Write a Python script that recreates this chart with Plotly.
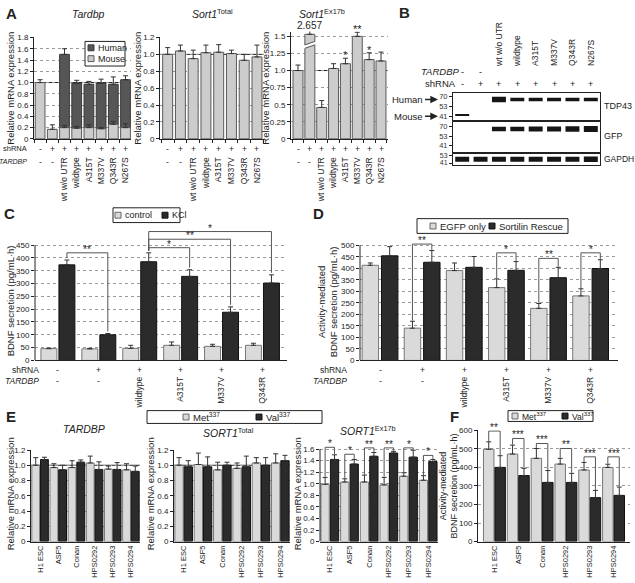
import plotly.graph_objects as go

W, H = 635, 583
FONT = "Liberation Sans, Arial, sans-serif"
BOLD = "Liberation Sans, Arial, sans-serif"
INK = "#222222"
LIGHT = "#dadada"
ALIGHT = "#cccccc"
HUMAN = "#565656"
DARK = "#2b2b2b"
MID = "#555555"
EDGE = "#5a5a5a"
GRID = "#9a9a9a"
TS = 8       # tick label size
RS = 8.5     # rotated label size
SS = 8.5     # +/- sign size
YT = 9.5     # axis title size

# ===================== DATA =====================
a_shrna = ["-", "+", "+", "+", "+", "+", "+", "+"]
a_tardbp = ["-", "-", "wt w/o UTR", "wildtype", "A315T", "M337V", "Q343R", "N267S"]

a1_mouse = [1.00, 0.17, 0.20, 0.19, 0.20, 0.18, 0.26, 0.20]
a1_mouse_err = [0.05, 0.08, 0.04, 0.03, 0.05, 0.02, 0.05, 0.07]
a1_total = [None, None, 1.50, 0.99, 0.97, 0.99, 0.97, 1.05]
a1_total_err = [0, 0, 0.10, 0.05, 0.05, 0.07, 0.13, 0.07]
a1_ticks = [0, 0.2, 0.4, 0.6, 0.8, 1.0, 1.2, 1.4, 1.6, 1.8]
a1_ticktext = ["0", "0.2", "0.4", "0.6", "0.8", "1.0", "1.2", "1.4", "1.6", "1.8"]

a2_vals = [1.00, 1.04, 0.95, 1.02, 1.025, 1.01, 0.93, 0.97]
a2_err = [0.08, 0.07, 0.10, 0.09, 0.09, 0.04, 0.07, 0.14]
a2_ticks = [0, 0.2, 0.4, 0.6, 0.8, 1.0, 1.2]
a2_ticktext = ["0", "0.2", "0.4", "0.6", "0.8", "1.0", "1.2"]

a3_vals = [1.00, 2.657, 0.46, 1.03, 1.10, 1.50, 1.16, 1.14]
a3_err = [0.08, 0.06, 0.10, 0.07, 0.08, 0.06, 0.10, 0.13]
a3_stars = ["", "", "", "", "*", "**", "*", ""]
a3_axis_cap = 1.53      # broken-axis display height of the 2.657 bar
a3_break_at = 1.35
a3_ticks = [0, 0.25, 0.5, 0.75, 1.0, 1.25, 1.5]
a3_ticktext = ["0", "0.25", "0.5", "0.75", "1.0", "1.25", "1.5"]

b_lanes = [1, 2, 3, 4, 5, 6, 7, 8]
b_tardbp = ["-", "-", "wt w/o UTR", "wildtype", "A315T", "M337V", "Q343R", "N267S"]
b_shrna = ["-", "+", "+", "+", "+", "+", "+", "+"]
b_mw = [70, 53, 41]
b_human_lanes = [3, 4, 5, 6, 7, 8]
b_human_kda = 64.5
b_human_thick = [5.5, 3.5, 3.5, 3.5, 3.5, 3.5]
b_mouse_lanes = [1]
b_mouse_kda = 42.5
b_mouse_thick = [2.0]
b_gfp_lanes = [3, 4, 5, 6, 7, 8]
b_gfp_kda = 64.5
b_gfp_thick = [4.5, 4.5, 5.0, 5.0, 5.5, 6.0]
b_gapdh_lanes = [1, 2, 3, 4, 5, 6, 7, 8]
b_gapdh_kda = 46.5
b_gapdh_thick = [5.0, 5.0, 5.0, 5.0, 5.0, 5.0, 5.0, 5.5]

c_shrna = ["-", "+", "+", "+", "+", "+"]
c_tardbp = ["-", "-", "wildtype", "A315T", "M337V", "Q343R"]
c_control = [46, 45, 47, 59, 55, 59]
c_control_err = [2, 2, 12, 13, 8, 8]
c_kcl = [373, 100, 385, 328, 188, 302]
c_kcl_err = [19, 5, 35, 26, 21, 32]
c_brackets = [(0, 1, 420, "**"), (2, 3, 440, "*"), (2, 4, 473, "**"), (2, 5, 503, "*")]
c_ticks = [0, 50, 100, 150, 200, 250, 300, 350, 400, 450]

d_shrna = ["-", "+", "+", "+", "+", "+"]
d_tardbp = ["-", "-", "wildtype", "A315T", "M337V", "Q343R"]
d_egfp = [413, 140, 390, 316, 226, 280]
d_egfp_err = [10, 30, 33, 38, 21, 31]
d_rescue = [454, 426, 404, 391, 359, 399]
d_rescue_err = [40, 51, 47, 38, 45, 38]
d_brackets = [(1, 505, "**"), (3, 467, "*"), (4, 443, "**"), (5, 467, "*")]
d_ticks = [0, 50, 100, 150, 200, 250, 300, 350, 400, 450, 500]

e_lines = ["H1 ESC", "ASF5", "Conan", "HPS0292", "HPS0293", "HPS0294"]
e1_met = [1.00, 0.97, 0.97, 1.03, 0.95, 0.94]
e1_met_err = [0.10, 0.05, 0.09, 0.09, 0.04, 0.08]
e1_val = [1.075, 0.94, 1.04, 0.945, 0.945, 0.92]
e1_val_err = [0.03, 0.06, 0.03, 0.10, 0.09, 0.07]
e2_met = [1.00, 1.01, 0.94, 0.96, 1.03, 1.03]
e2_met_err = [0.10, 0.15, 0.10, 0.07, 0.07, 0.12]
e2_val = [0.98, 0.98, 1.00, 0.98, 1.00, 1.06]
e2_val_err = [0.08, 0.13, 0.04, 0.14, 0.10, 0.07]
e3_met = [0.99, 1.03, 1.03, 0.98, 1.13, 1.06]
e3_met_err = [0.12, 0.055, 0.12, 0.13, 0.06, 0.08]
e3_val = [1.42, 1.34, 1.475, 1.53, 1.46, 1.385]
e3_val_err = [0.08, 0.08, 0.065, 0.03, 0.12, 0.035]
e3_bracket_top = [1.63, 1.51, 1.62, 1.62, 1.62, 1.49]
e3_bracket_lab = ["*", "*", "**", "**", "*", "*"]
e12_ticks = [0, 0.2, 0.4, 0.6, 0.8, 1.0, 1.2]
e12_ticktext = ["0", "0.2", "0.4", "0.6", "0.8", "1.0", "1.2"]
e3_ticks = [0, 0.2, 0.4, 0.6, 0.8, 1.0, 1.2, 1.4, 1.6]
e3_ticktext = ["0", "0.2", "0.4", "0.6", "0.8", "1.0", "1.2", "1.4", "1.6"]

f_met = [498, 472, 449, 418, 386, 400]
f_met_err = [40, 48, 53, 31, 41, 17]
f_val = [400, 356, 319, 319, 237, 249]
f_val_err = [63, 39, 64, 49, 39, 45]
f_bracket_top = [596, 556, 529, 502, 457, 457]
f_bracket_lab = ["**", "***", "***", "**", "***", "***"]
f_ticks = [0, 100, 200, 300, 400, 500, 600]

# ===================== HELPERS =====================
def fx(px):
    return px / W


def fy(py):
    return 1 - py / H


fig = go.Figure()
shapes = []
annots = []
layout = {}


def ref(n):
    return ("x" if n == 1 else f"x{n}"), ("y" if n == 1 else f"y{n}")


def lkey(n):
    return ("xaxis" if n == 1 else f"xaxis{n}"), ("yaxis" if n == 1 else f"yaxis{n}")


def tf(size=11, color=INK, family=FONT):
    return dict(size=size, color=color, family=family)


def make_axes(n, xpx, ypx, xr, yr, yticks=None, ytext=None, grid=True, yline=True, xkw=None, ykw=None):
    xk, yk = lkey(n)
    xr_, yr_ = ref(n)
    xa = dict(domain=[fx(xpx[0]), fx(xpx[1])], range=xr, anchor=yr_, showgrid=False, zeroline=False,
              showline=True, linecolor=INK, linewidth=1, ticks="", tickfont=tf(RS), fixedrange=True)
    ya = dict(domain=[fy(ypx[1]), fy(ypx[0])], range=yr, anchor=xr_, zeroline=False, showline=yline,
              linecolor=INK, linewidth=1, ticks="outside", ticklen=3, tickwidth=1, tickcolor=INK,
              tickfont=tf(TS), showgrid=grid, gridcolor=GRID, griddash="dot", gridwidth=1,
              tickmode="array", tickvals=yticks, ticktext=ytext, fixedrange=True)
    if xkw:
        xa.update(xkw)
    if ykw:
        ya.update(ykw)
    layout[xk] = xa
    layout[yk] = ya


def bars(n, x, y, err, color, width, offset, base=None, name=None, edge=EDGE):
    xr_, yr_ = ref(n)
    fig.add_trace(go.Bar(
        x=x, y=y, base=base, width=width, offset=offset, xaxis=xr_, yaxis=yr_,
        marker=dict(color=color, line=dict(color=edge, width=1)),
        error_y=dict(type="data", array=err, arrayminus=[0] * len(err), symmetric=False,
                     color="#333333", thickness=1, width=2.5),
        name=name, showlegend=False, hoverinfo="skip"))


def text(x, y, s, xref="paper", yref="paper", size=10, xanchor="center", yanchor="middle",
         angle=0, family=FONT, yshift=0, color=INK):
    annots.append(dict(x=x, y=y, xref=xref, yref=yref, text=s, showarrow=False, textangle=angle,
                       xanchor=xanchor, yanchor=yanchor, yshift=yshift, font=tf(size, color, family)))


def row_signs(n, labels, py, size=SS):
    xr_, _ = ref(n)
    for i, s in enumerate(labels):
        if s in ("-", "+"):
            text(i, fy(py), s, xref=xr_, size=size)


def bracket(n, x0, x1, y0, y1, top, label, size=10):
    xr_, yr_ = ref(n)
    shapes.append(dict(type="path", path=f"M {x0},{y0} L {x0},{top} L {x1},{top} L {x1},{y1}",
                       xref=xr_, yref=yr_, line=dict(color=MID, width=1)))
    text((x0 + x1) / 2, top, label, xref=xr_, yref=yr_, size=size, yanchor="bottom", yshift=-4)


def refline(n, yv, xr):
    xr_, yr_ = ref(n)
    shapes.append(dict(type="line", xref=xr_, yref=yr_, x0=xr[0], x1=xr[1], y0=yv, y1=yv,
                       line=dict(color=INK, width=1), layer="below"))


def yline(n, top):
    xr_, yr_ = ref(n)
    shapes.append(dict(type="line", xref=f"{xr_} domain", yref=yr_, x0=0, x1=0, y0=0, y1=top,
                       line=dict(color=INK, width=1)))


def minor_sep(k):
    return dict(tickvals=[i + 0.5 for i in range(-1, k)], ticks="outside", ticklen=3, tickcolor=INK)


def rot_text(labels):
    return ["" if t in ("-", "+") else t for t in labels]


def key_box(box, entries, size=9):
    """legend box: box=(x0,x1,y0,y1) px; entries=(swatch_x, y, label, fill, edge)"""
    shapes.append(dict(type="rect", xref="paper", yref="paper", x0=fx(box[0]), x1=fx(box[1]),
                       y0=fy(box[3]), y1=fy(box[2]), fillcolor="white", line=dict(color=INK, width=1)))
    for sx, sy, lab, fill, edge in entries:
        shapes.append(dict(type="rect", xref="paper", yref="paper", x0=fx(sx), x1=fx(sx + 6),
                           y0=fy(sy + 3), y1=fy(sy - 3), fillcolor=fill, line=dict(color=edge, width=1)))
        text(fx(sx + 8), fy(sy), lab, xanchor="left", size=size)


# ===================== PANEL A =====================
idx8 = list(range(8))
a1_xr = [-0.5, 7.45]
make_axes(1, (34, 131), (34, 137), a1_xr, [0, 1.8], a1_ticks, a1_ticktext,
          xkw=dict(tickmode="array", tickvals=idx8, ticktext=rot_text(a_tardbp), tickangle=-90,
                   ticklabelstandoff=14, minor=minor_sep(8)))
a1_human = [None if t is None else round(t - m, 3) for t, m in zip(a1_total, a1_mouse)]
bars(1, idx8, a1_human, a1_total_err, HUMAN, 0.8, -0.4, base=a1_mouse, name="Human", edge="#3a3a3a")
bars(1, idx8, a1_mouse, a1_mouse_err, ALIGHT, 0.8, -0.4, name="Mouse")
refline(1, 1.0, a1_xr)
row_signs(1, a_shrna, 147)
row_signs(1, a_tardbp, 160)
text(fx(29), fy(147), "shRNA", xanchor="right", size=7.5)
text(fx(29), fy(160), "<i>TARDBP</i>", xanchor="right", size=7)
text(fx(88), fy(10), "<i>Tardbp</i>", size=10.5)
text(fx(11), fy(86), "Relative mRNA expression", angle=-90, size=YT)
key_box((85, 125, 38, 63), [(88, 44.5, "Human", HUMAN, "#3a3a3a"), (88, 55.5, "Mouse", ALIGHT, EDGE)])

a2_xr = [-0.6, 7.55]
make_axes(2, (160, 264), (34, 137), a2_xr, [0, 1.2], a2_ticks, a2_ticktext,
          xkw=dict(tickmode="array", tickvals=idx8, ticktext=rot_text(a_tardbp), tickangle=-90,
                   ticklabelstandoff=14, minor=minor_sep(8)))
bars(2, idx8, a2_vals, a2_err, ALIGHT, 0.78, -0.39)
refline(2, 1.0, a2_xr)
row_signs(2, a_shrna, 147)
row_signs(2, a_tardbp, 160)
text(fx(212), fy(10), "<i>Sort1</i><sup>Total</sup>", size=10.5)
text(fx(138), fy(86), "Relative mRNA expression", angle=-90, size=YT)

a3_xr = [-0.59, 7.59]
make_axes(3, (291, 388), (28, 137), a3_xr, [0, 1.57], a3_ticks, a3_ticktext,
          xkw=dict(tickmode="array", tickvals=idx8, ticktext=rot_text(a_tardbp), tickangle=-90,
                   ticklabelstandoff=14, minor=minor_sep(8)))
a3_shown = [min(v, a3_axis_cap) for v in a3_vals]
bars(3, idx8, a3_shown, a3_err, ALIGHT, 0.84, -0.42)
refline(3, 1.0, a3_xr)
row_signs(3, a_shrna, 147)
row_signs(3, a_tardbp, 160)
brk = a3_vals.index(max(a3_vals))
shapes.append(dict(type="path", xref="x3", yref="y3",
                   path=(f"M {brk - 0.5},{a3_break_at - 0.03} L {brk + 0.5},{a3_break_at + 0.03} "
                         f"L {brk + 0.5},{a3_break_at + 0.08} L {brk - 0.5},{a3_break_at + 0.02} Z"),
                   fillcolor="white", line=dict(width=0)))
for dy in (-0.03, 0.02):
    shapes.append(dict(type="line", xref="x3", yref="y3", x0=brk - 0.42, x1=brk + 0.42,
                       y0=a3_break_at + dy + 0.005, y1=a3_break_at + dy + 0.055,
                       line=dict(color=MID, width=1)))
text(brk, 1.57, f"{max(a3_vals):.3f}", xref="x3", yref="y3", size=10, yanchor="bottom", yshift=-1)
for i, s in enumerate(a3_stars):
    if s:
        text(i, a3_shown[i] + a3_err[i], s, xref="x3", yref="y3", size=11, yanchor="bottom", yshift=-5)
text(fx(322), fy(10), "<i>Sort1</i><sup>Ex17b</sup>", size=10.5)
text(fx(266), fy(86), "Relative mRNA expression", angle=-90, size=YT)

# ===================== PANEL B =====================
b_rng = [0.5, 8.5]
b_tick = dict(tickmode="array", tickvals=b_mw, ticktext=[str(v) for v in b_mw], ticks="outside",
              ticklen=3, tickfont=tf(7.5, "#333333"), showgrid=False, mirror=True, type="log")
make_axes(4, (453, 600), (90, 118), b_rng, [1.567, 1.891], grid=False,
          xkw=dict(side="top", mirror=True, tickmode="array", tickvals=b_lanes,
                   ticktext=rot_text(b_tardbp), tickangle=-90, ticklabelstandoff=24,
                   tickfont=tf(8.5)),
          ykw=b_tick)
make_axes(5, (453, 600), (120, 150), b_rng, [1.543, 1.891], grid=False,
          xkw=dict(mirror=True, showticklabels=False), ykw=b_tick)
make_axes(6, (453, 600), (152, 163.5), b_rng, [1.585, 1.745], grid=False,
          xkw=dict(mirror=True, showticklabels=False),
          ykw=dict(b_tick, tickvals=b_mw[1:], ticktext=[str(v) for v in b_mw[1:]], tickfont=tf(7, "#333333")))


def bands(n, lanes, kda, thick):
    xr_, yr_ = ref(n)
    for lane, t in zip(lanes, thick):
        fig.add_trace(go.Scatter(x=[lane - 0.38, lane + 0.38], y=[kda, kda], mode="lines",
                                 line=dict(color="#161616", width=t), xaxis=xr_, yaxis=yr_,
                                 showlegend=False, hoverinfo="skip"))


bands(4, b_human_lanes, b_human_kda, b_human_thick)
bands(4, b_mouse_lanes, b_mouse_kda, b_mouse_thick)
bands(5, b_gfp_lanes, b_gfp_kda, b_gfp_thick)
bands(6, b_gapdh_lanes, b_gapdh_kda, b_gapdh_thick)
for lane, s in zip(b_lanes, b_tardbp):
    if s in ("-", "+"):
        text(lane, fy(69), s, xref="x4", size=9)
for lane, s in zip(b_lanes, b_shrna):
    text(lane, fy(81), s, xref="x4", size=9)
text(fx(461), fy(69), "<i>TARDBP</i>", xanchor="right", size=9.5)
text(fx(458), fy(81), "shRNA", xanchor="right", size=9.5)
text(fx(602), fy(104), "TDP43", xanchor="left", size=9)
text(fx(602), fy(134), "GFP", xanchor="left", size=9)
text(fx(602), fy(157.5), "GAPDH", xanchor="left", size=8.5)
for lab, py in (("Human", 97), ("Mouse", 114)):
    annots.append(dict(x=fx(438), y=fy(py), xref="paper", yref="paper", ax=-13, ay=0,
                       axref="pixel", ayref="pixel", text=lab, showarrow=True, arrowhead=2,
                       arrowsize=1.1, arrowwidth=1.4, arrowcolor=INK, xanchor="right",
                       font=tf(9.5)))

# ===================== PANEL C =====================
idx6 = list(range(6))
make_axes(7, (35, 287), (228, 362), [-0.56, 5.6], [0, 515], c_ticks, [str(v) for v in c_ticks],
          yline=False,
          xkw=dict(tickmode="array", tickvals=idx6, ticktext=rot_text(c_tardbp), tickangle=-90,
                   ticklabelstandoff=12))
yline(7, c_ticks[-1])
bars(7, idx6, c_control, c_control_err, LIGHT, 0.39, -0.415, name="control", edge="#777777")
bars(7, idx6, c_kcl, c_kcl_err, DARK, 0.39, 0.025, name="KCl", edge="#111111")
kx = 0.025 + 0.195
for a, b, top, lab in c_brackets:
    bracket(7, a + kx, b + kx, c_kcl[a] + c_kcl_err[a] + 8, c_kcl[b] + c_kcl_err[b] + 8, top, lab)
row_signs(7, c_shrna, 372)
row_signs(7, c_tardbp, 383)
text(fx(41), fy(372), "shRNA", xanchor="right", size=RS)
text(fx(41), fy(383), "<i>TARDBP</i>", xanchor="right", size=RS)
text(fx(10), fy(302), "BDNF secretion (pg/mL·h)", angle=-90, size=YT)
key_box((113, 180, 207, 222), [(115, 214.5, "control", LIGHT, "#666666"), (162, 214.5, "KCl", DARK, "#111111")])

# ===================== PANEL D =====================
make_axes(8, (360, 618), (241.5, 362), [-0.475, 5.65], [0, 515], d_ticks, [str(v) for v in d_ticks],
          yline=False,
          xkw=dict(tickmode="array", tickvals=idx6, ticktext=rot_text(d_tardbp), tickangle=-90,
                   ticklabelstandoff=12))
yline(8, d_ticks[-1])
bars(8, idx6, d_egfp, d_egfp_err, LIGHT, 0.39, -0.425, name="EGFP only", edge="#777777")
bars(8, idx6, d_rescue, d_rescue_err, DARK, 0.39, 0.035, name="Sortilin Rescue", edge="#111111")
for g, top, lab in d_brackets:
    x0, x1 = g - 0.23, g + 0.23
    bracket(8, x0, x1, d_egfp[g] + d_egfp_err[g] + 3, d_rescue[g] + d_rescue_err[g] + 3, top, lab)
row_signs(8, d_shrna, 372)
row_signs(8, d_tardbp, 383)
text(fx(349), fy(372), "shRNA", xanchor="right", size=RS)
text(fx(349), fy(383), "<i>TARDBP</i>", xanchor="right", size=RS)
text(fx(327), fy(302), "Activity-mediated<br>BDNF secretion (pg/mL·h)", angle=-90, size=YT)
key_box((417, 568, 218, 233), [(430, 225.5, "EGFP only", LIGHT, "#666666"),
                               (489, 225.5, "Sortilin Rescue", DARK, "#111111")], size=9.5)

# ===================== PANEL E =====================
exk = dict(tickmode="array", tickvals=idx6, ticktext=e_lines, tickangle=-90, ticklabelstandoff=0,
           tickfont=tf(7.5))
e_xr = [-0.5, 5.5]
make_axes(9, (31, 140), (453, 546), e_xr, [0, 1.2], e12_ticks, e12_ticktext, xkw=exk)
bars(9, idx6, e1_met, e1_met_err, LIGHT, 0.43, -0.455, name="Met337", edge="#777777")
bars(9, idx6, e1_val, e1_val_err, DARK, 0.43, 0.025, name="Val337", edge="#111111")
refline(9, 1.0, e_xr)
text(fx(84), fy(432), "<i>TARDBP</i>", size=10.5)
text(fx(10), fy(498), "Relative mRNA expression", angle=-90, size=YT)

make_axes(10, (174, 290), (453, 546), e_xr, [0, 1.2], e12_ticks, e12_ticktext, xkw=exk)
bars(10, idx6, e2_met, e2_met_err, LIGHT, 0.43, -0.455, edge="#777777")
bars(10, idx6, e2_val, e2_val_err, DARK, 0.43, 0.025, edge="#111111")
refline(10, 1.0, e_xr)
text(fx(228), fy(435), "<i>SORT1</i><sup>Total</sup>", size=10.5)
text(fx(150), fy(498), "Relative mRNA expression", angle=-90, size=YT)

make_axes(11, (320, 438), (448.5, 546), e_xr, [0, 1.66], e3_ticks, e3_ticktext,
          yline=False, xkw=exk)
yline(11, e3_ticks[-1])
bars(11, idx6, e3_met, e3_met_err, LIGHT, 0.42, -0.45, edge="#777777")
bars(11, idx6, e3_val, e3_val_err, DARK, 0.42, 0.03, edge="#111111")
for g in idx6:
    x0, x1 = g - 0.24, g + 0.24
    bracket(11, x0, x1, e3_met[g] + e3_met_err[g] + 0.01, e3_val[g] + e3_val_err[g] + 0.01,
            e3_bracket_top[g], e3_bracket_lab[g])
text(fx(368), fy(433), "<i>SORT1</i><sup>Ex17b</sup>", size=10.5)
text(fx(297), fy(498), "Relative mRNA expression", angle=-90, size=YT)
key_box((147, 322, 413, 426), [(183, 419.5, "Met<sup>337</sup>", LIGHT, "#666666"),
                               (256, 419.5, "Val<sup>337</sup>", DARK, "#111111")], size=9.5)

# ===================== PANEL F =====================
make_axes(12, (478, 630), (433, 546), [-0.69, 5.69], [0, 600], f_ticks, [str(v) for v in f_ticks],
          xkw=exk)
bars(12, idx6, f_met, f_met_err, LIGHT, 0.44, -0.46, name="Met337", edge="#777777")
bars(12, idx6, f_val, f_val_err, DARK, 0.44, 0.02, name="Val337", edge="#111111")
for g in idx6:
    x0, x1 = g - 0.24, g + 0.24
    bracket(12, x0, x1, f_met[g] + f_met_err[g] + 3, f_val[g] + f_val_err[g] + 3,
            f_bracket_top[g], f_bracket_lab[g])
text(fx(449), fy(490), "Activity-mediated<br>BDNF secretion (pg/mL·h)", angle=-90, size=9)
key_box((508, 593, 413, 424), [(512, 418.5, "Met<sup>337</sup>", LIGHT, "#666666"),
                               (562, 418.5, "Val<sup>337</sup>", DARK, "#111111")], size=8.5)

# ===================== PANEL LETTERS =====================
for lab, px, py in (("A", 11, 10), ("B", 404, 9), ("C", 9, 213), ("D", 319, 213), ("E", 11, 419),
                    ("F", 455, 419)):
    text(fx(px), fy(py), f"<b>{lab}</b>", size=15, family=BOLD)

fig.update_layout(
    width=W, height=H, autosize=False, margin=dict(l=0, r=0, t=0, b=0),
    paper_bgcolor="white", plot_bgcolor="white", barmode="overlay", showlegend=False,
    font=tf(10), shapes=shapes, annotations=annots, **layout)

fig.write_html("out.html", config={"displayModeBar": False, "staticPlot": True},
               post_script="document.body.style.margin='0px';")
